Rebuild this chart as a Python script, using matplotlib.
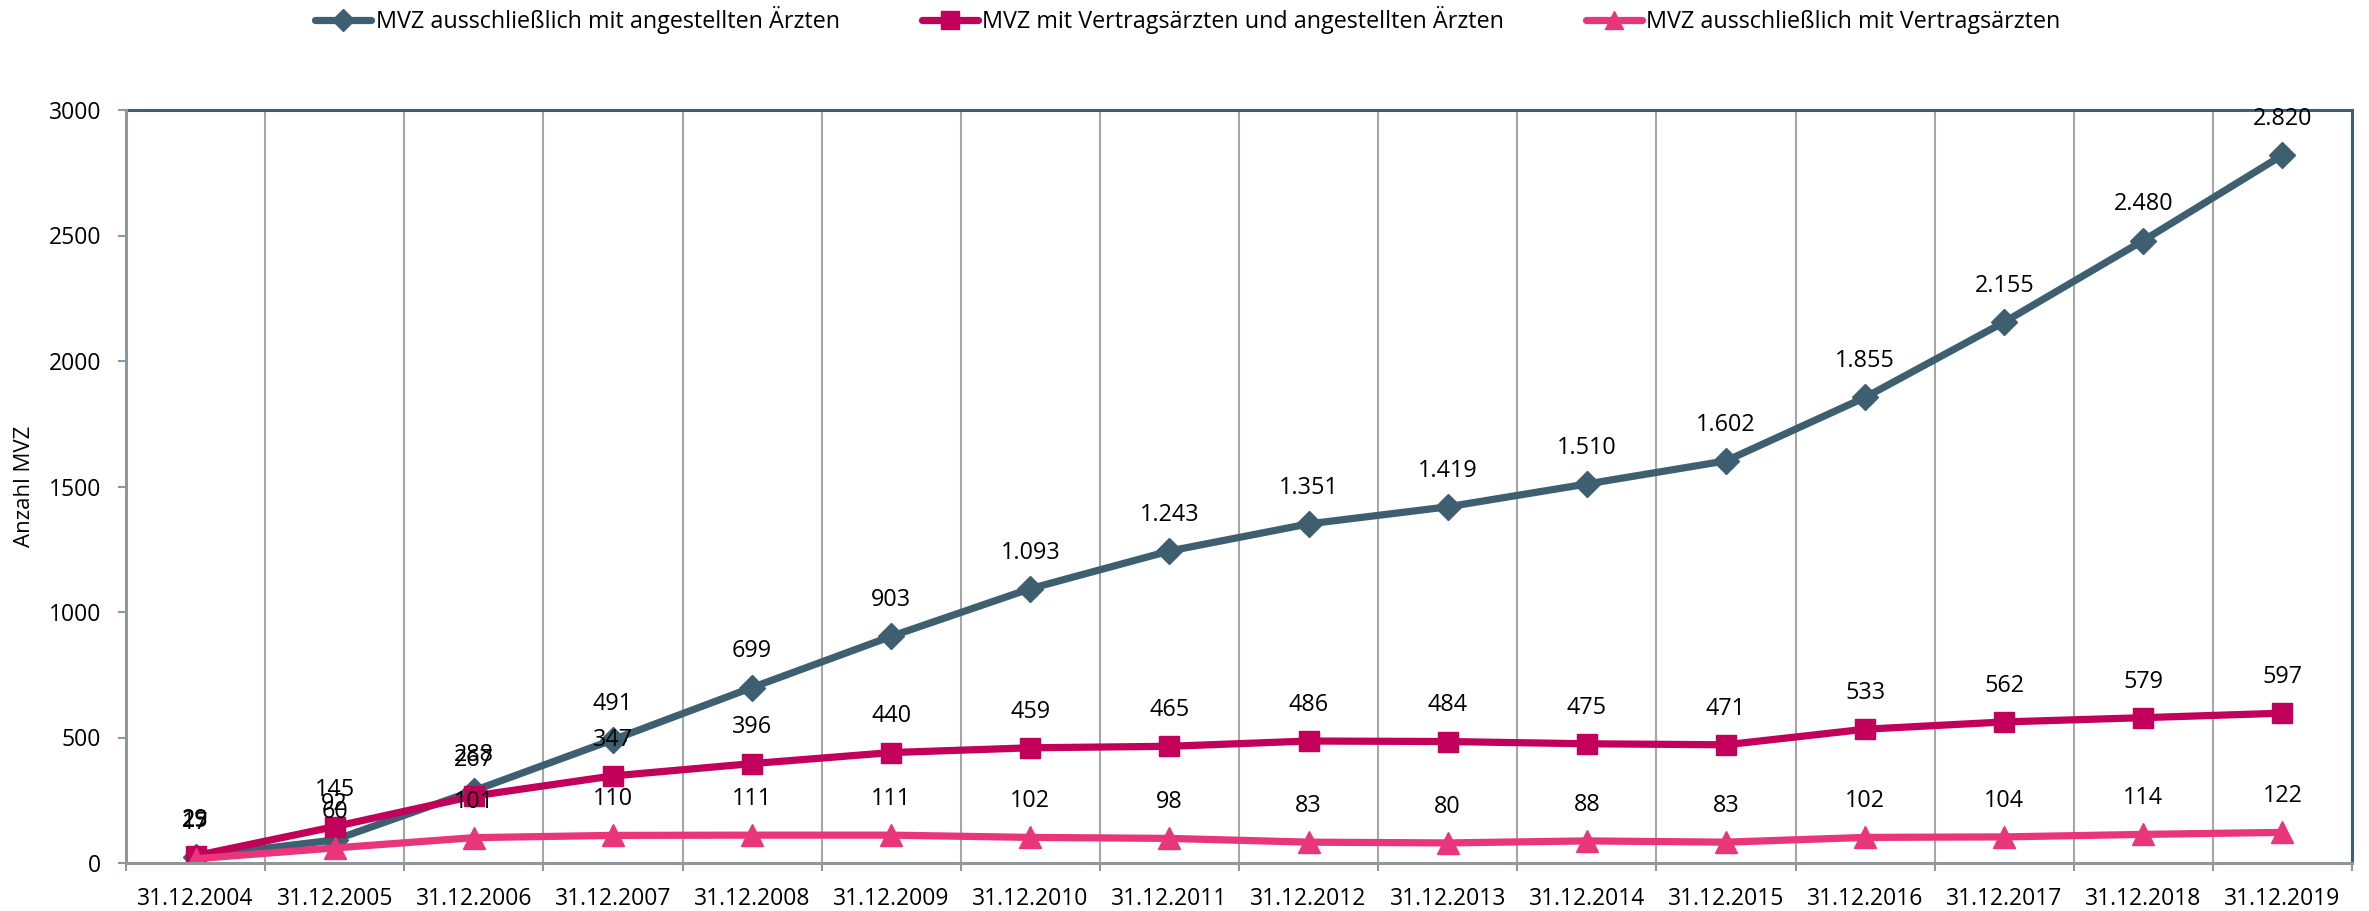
import matplotlib
matplotlib.use("Agg")
import matplotlib.pyplot as plt
from matplotlib.ticker import FixedLocator

plt.rcParams['font.family'] = ['Open Sans', 'DejaVu Sans']

categories = ["31.12.2004", "31.12.2005", "31.12.2006", "31.12.2007", "31.12.2008",
              "31.12.2009", "31.12.2010", "31.12.2011", "31.12.2012", "31.12.2013",
              "31.12.2014", "31.12.2015", "31.12.2016", "31.12.2017", "31.12.2018",
              "31.12.2019"]
angestellte = [25, 92, 288, 491, 699, 903, 1093, 1243, 1351, 1419, 1510, 1602, 1855, 2155, 2480, 2820]
gemischt = [29, 145, 267, 347, 396, 440, 459, 465, 486, 484, 475, 471, 533, 562, 579, 597]
vertragsaerzte = [17, 60, 101, 110, 111, 111, 102, 98, 83, 80, 88, 83, 102, 104, 114, 122]

series_names = ["MVZ ausschließlich mit angestellten Ärzten",
                "MVZ mit Vertragsärzten und angestellten Ärzten",
                "MVZ ausschließlich mit Vertragsärzten"]
colors = ["#3D5F6F", "#C2005B", "#E9357A"]
markers = ["D", "s", "^"]
msizes = [13, 15, 16]

fig = plt.figure(figsize=(23.69, 9.11), dpi=100)
ax = fig.add_axes([126/2369, 1-863/911, (2352-126)/2369, (863-110)/911])

x = list(range(len(categories)))
data = [angestellte, gemischt, vertragsaerzte]
handles = []
for vals, c, m, ms, name in zip(data, colors, markers, msizes, series_names):
    h, = ax.plot(x, vals, color=c, lw=5.2, marker=m, ms=ms, mfc=c, mec=c,
                 label=name, zorder=3, solid_capstyle='round')
    handles.append(h)

def fmt(v):
    return f"{v:,}".replace(",", ".")

for vals in data:
    for xi, v in zip(x, vals):
        ax.annotate(fmt(v), (xi, v), xytext=(0, 26), textcoords='offset points',
                    ha='center', va='center', fontsize=16.8, color='black', zorder=5)

ax.set_xlim(-0.5, len(categories) - 0.5)
ax.set_ylim(0, 3000)
ax.set_yticks([0, 500, 1000, 1500, 2000, 2500, 3000])
ax.set_xticks(x)
ax.set_xticklabels(categories)
ax.xaxis.set_minor_locator(FixedLocator([i + 0.5 for i in range(-1, len(categories))]))
ax.tick_params(axis='x', which='major', length=0, pad=17, labelsize=16.5)
ax.tick_params(axis='x', which='minor', length=6, width=1.5, color='#8E979C')
ax.tick_params(axis='y', length=6, width=1.5, color='#8E979C', pad=12, labelsize=16.5)

for b in [i + 0.5 for i in range(len(categories) - 1)]:
    ax.axvline(b, color='#A6A6A6', lw=1.5, zorder=1)

ax.spines['left'].set_color('#8E979C')
ax.spines['bottom'].set_color('#8E979C')
ax.spines['top'].set_color('#3D5F6F')
ax.spines['right'].set_color('#3D5F6F')
for s in ax.spines.values():
    s.set_linewidth(2.2)
ax.spines['left'].set_zorder(4)
ax.spines['bottom'].set_zorder(4)

ax.set_ylabel("Anzahl MVZ", fontsize=16, labelpad=10)

fig.legend(handles=handles, loc='center', bbox_to_anchor=(1188/2369, 1-20/911),
           ncol=3, frameon=False, fontsize=16.8, handlelength=2.4,
           handletextpad=0.2, columnspacing=3.5, markerscale=0.85)

fig.savefig("out.png", dpi=100)
